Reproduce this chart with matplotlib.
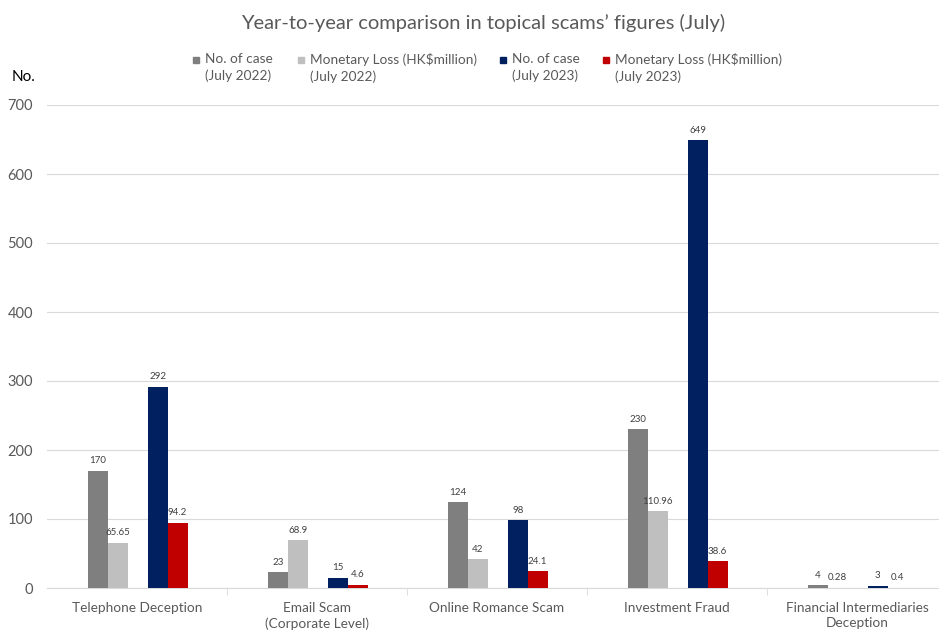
import matplotlib.pyplot as plt
import numpy as np

categories = ["Telephone Deception", "Email Scam\n(Corporate Level)", "Online Romance Scam",
              "Investment Fraud", "Financial Intermediaries\nDeception"]
cases_2022 = [170, 23, 124, 230, 4]
loss_2022 = [65.65, 68.9, 42, 110.96, 0.28]
cases_2023 = [292, 15, 98, 649, 3]
loss_2023 = [94.2, 4.6, 24.1, 38.6, 0.4]
label_2022 = ["170", "23", "124", "230", "4"]
label_loss_2022 = ["65.65", "68.9", "42", "110.96", "0.28"]
label_2023 = ["292", "15", "98", "649", "3"]
label_loss_2023 = ["94.2", "4.6", "24.1", "38.6", "0.4"]
series_names = ["No. of case\n(July 2022)", "Monetary Loss (HK$million)\n(July 2022)",
                "No. of case\n(July 2023)", "Monetary Loss (HK$million)\n(July 2023)"]
colors = ["#7f7f7f", "#bfbfbf", "#002060", "#c00000"]

plt.rcParams['font.family'] = ['Lato', 'DejaVu Sans']
text_col = "#595959"

fig = plt.figure(figsize=(9.39, 6.30), dpi=100)
ax = fig.add_axes([47 / 939, 42 / 630, 900 / 939, 483 / 630])

x = np.arange(len(categories))
w = 0.111
offsets = [-2, -1, 1, 2]
series = [cases_2022, loss_2022, cases_2023, loss_2023]
labels = [label_2022, label_loss_2022, label_2023, label_loss_2023]
for vals, labs, off, col in zip(series, labels, offsets, colors):
    bars = ax.bar(x + off * w + 0.004, vals, width=w, color=col, zorder=3)
    for b, lab in zip(bars, labs):
        ax.text(b.get_x() + b.get_width() / 2, b.get_height() + 8, lab,
                ha='center', va='bottom', fontsize=7, color="#404040")

ax.set_xlim(-0.5, 4.5)
ax.set_ylim(0, 700)
ax.set_yticks(range(0, 701, 100))
ax.yaxis.grid(True, color="#d9d9d9", linewidth=0.8, zorder=0)
ax.set_xticks(x)
ax.set_xticklabels(categories, fontsize=9.8, color=text_col, linespacing=1.35)
ax.set_xticks(np.arange(0.5, 4.5, 1), minor=True)
ax.tick_params(axis='x', which='major', length=0, pad=10)
ax.tick_params(axis='x', which='minor', length=5, color="#d9d9d9", direction='out')
ax.tick_params(axis='y', length=0, labelsize=10.5, labelcolor=text_col, pad=10)
for s in ['top', 'right', 'left']:
    ax.spines[s].set_visible(False)
ax.spines['bottom'].set_color("#d9d9d9")

fig.text(483 / 939, 1 - 23 / 630, "Year-to-year comparison in topical scams\u2019 figures (July)",
         ha='center', va='center', fontsize=14.5, color=text_col)
fig.text(12 / 939, 1 - 77 / 630, "No.", ha='left', va='center', fontsize=11, color="black")

# legend, drawn by hand to match the two-line layout
leg_x = [193, 298, 500, 603]
for lx, name, col in zip(leg_x, series_names, colors):
    fig.patches.append(plt.Rectangle((lx / 939, 1 - 63 / 630), 6 / 939, 6 / 630,
                                     transform=fig.transFigure, color=col, figure=fig))
    fig.text((lx + 12) / 939, 1 - 53 / 630, name, ha='left', va='top', fontsize=9.8,
             color=text_col, linespacing=1.45)

fig.savefig("out.png", dpi=100)
